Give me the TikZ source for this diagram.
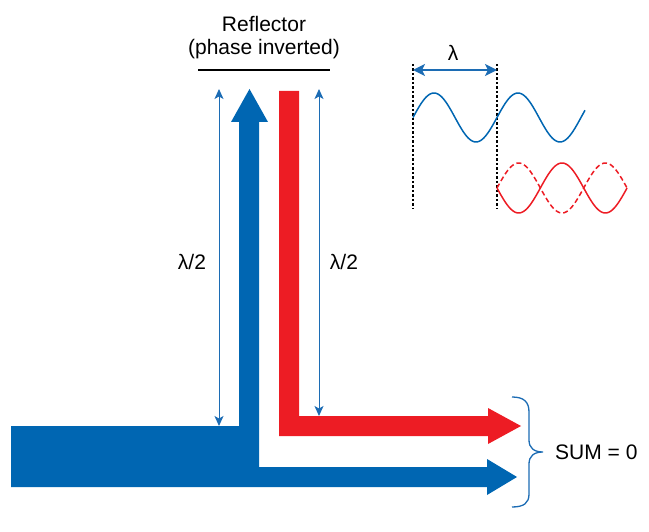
\documentclass[tikz,border=0pt]{standalone}
\usepackage{fontspec}
\setmainfont{Liberation Sans}
\usetikzlibrary{arrows.meta}
\definecolor{bigblue}{RGB}{0,102,178}
\definecolor{bigred}{RGB}{237,28,36}
\definecolor{thinblue}{RGB}{28,108,180}
\tikzset{
  lbl/.style={inner sep=0pt, font=\fontsize{21}{25}\selectfont, text=black},
  dimarrow/.style={thinblue, line width=1pt, {Stealth[length=10pt,width=9pt,inset=2.5pt]}-{Stealth[length=10pt,width=9pt,inset=2.5pt]}},
  lamarrow/.style={thinblue, line width=1.5pt, {Stealth[length=12pt,width=12pt,inset=3pt]}-{Stealth[length=12pt,width=12pt,inset=3pt]}},
  guide/.style={black, line width=1.3pt, dash pattern=on 2.5pt off 2pt},
  wave/.style={line width=1.5pt},
}
\begin{document}
\begin{tikzpicture}[x=1pt,y=-1pt]
\useasboundingbox (0,0) rectangle (649,532);
% big blue shape
\fill[bigblue] (11,426) -- (239,426) -- (239,122) -- (231,122) -- (249.5,89) -- (268,122) -- (259,122)
  -- (259,467) -- (487,467) -- (487,459) -- (517,477) -- (487,495) -- (487,487) -- (11,487) -- cycle;
% big red shape
\fill[bigred] (279,91) -- (299,91) -- (299,416) -- (488,416) -- (488,408) -- (521,426) -- (488,444)
  -- (488,436) -- (279,436) -- cycle;
% reflector
\node[lbl] (refl1) at (264,24) {Reflector};
\node[lbl] (refl2) at (264,49) {(phase inverted)};
\draw[black, line width=1.1pt] (198,70) coordinate (rl) -- (330,70) coordinate (rr);
% half-wavelength dimension arrows
\coordinate (la) at (219,89);
\coordinate (lb) at (219,426);
\coordinate (ra) at (319,89);
\coordinate (rb) at (319,416);
\draw[dimarrow] (la) -- (lb);
\draw[dimarrow] (ra) -- (rb);
\node[lbl] (lh1) at (192,262) {λ/2};
\node[lbl] (lh2) at (344,262) {λ/2};
% wavelength guides
\coordinate (g1t) at (413,64);
\coordinate (g1b) at (413,209);
\coordinate (g2t) at (497,64);
\coordinate (g2b) at (497,209);
\draw[guide] (g1t) -- (g1b);
\draw[guide] (g2t) -- (g2b);
\coordinate (w1) at (413,70);
\coordinate (w2) at (497,70);
\draw[lamarrow] (w1) -- (w2);
\node[lbl] (lam) at (453,53) {λ};
% waves
\draw[wave, bigblue, domain=0:172, samples=120, smooth, variable=\t] plot ({413+\t}, {117.5-24.5*sin(4.285714*\t)});
\draw[wave, bigred, domain=0:130, samples=100, smooth, variable=\t] plot ({497+\t}, {188+25*sin(4.152*\t)});
\draw[wave, bigred, dash pattern=on 5pt off 3pt, domain=0:130, samples=100, smooth, variable=\t] plot ({497+\t}, {188-25*sin(4.152*\t)});
% brace and sum
\draw[thinblue, line width=1.3pt] (512,397) .. controls (524,397) and (529,402) .. (529,412) -- (529,440)
  .. controls (529,448) and (534,452) .. (543,452) .. controls (534,452) and (529,456) .. (529,464)
  -- (529,494) .. controls (529,503) and (524,507) .. (512,507);
\node[lbl, anchor=west] (sum) at (555,452) {SUM = 0};
\end{tikzpicture}
\end{document}
